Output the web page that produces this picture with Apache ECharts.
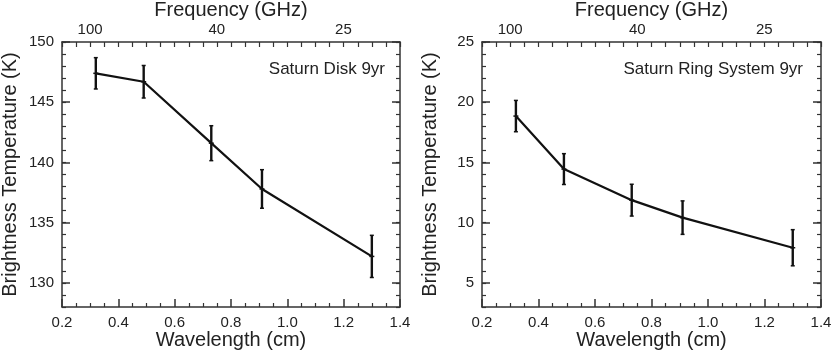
<!DOCTYPE html>
<html>
<head>
<meta charset="utf-8">
<script src="https://cdn.jsdelivr.net/npm/echarts@6/dist/echarts.min.js"></script>
<style>
html, body { margin: 0; padding: 0; background: #fff; }
#chart { width: 831px; height: 352px; }
</style>
</head>
<body>
<div id="chart"></div>
<script>
// WMAP bands W, V, Q, Ka, K (cm)
const wavelength = [0.32, 0.49, 0.73, 0.91, 1.30]
const diskTemp = [147.4, 146.7, 141.6, 137.8, 132.2]
const diskErr = [1.3, 1.35, 1.45, 1.6, 1.75]
const ringTemp = [18.85, 14.45, 11.87, 10.42, 7.92]
const ringErr = [1.3, 1.28, 1.32, 1.39, 1.5]
const freqTicks = [100, 40, 25] // GHz, top axis
const diskYTicks = [130, 135, 140, 145, 150]
const ringYTicks = [5, 10, 15, 20, 25]

const C = 29.9792458 // cm GHz
const font = '"Liberation Sans", Arial, Helvetica, sans-serif'
const ink = '#222'
const frame = { lineStyle: { color: '#333', width: 1.5 } }

const panels = [
    { left: 62, width: 338, ymin: 128, ymax: 150, yTicks: diskYTicks, temp: diskTemp, err: diskErr, label: 'Saturn Disk 9yr', labelX: 385 },
    { left: 482, width: 339, ymin: 3, ymax: 25, yTicks: ringYTicks, temp: ringTemp, err: ringErr, label: 'Saturn Ring System 9yr', labelX: 803 }
]

const grid = [], xAxis = [], yAxis = [], series = [], graphic = []

panels.forEach((p, i) => {
    grid.push({ left: p.left, top: 42, width: p.width, height: 265, outerBoundsMode: 'none', containLabel: false })
    // bottom wavelength axis
    xAxis.push({
        gridIndex: i, type: 'value', position: 'bottom', min: 0.2, max: 1.4, interval: 0.2,
        axisLine: frame, splitLine: { show: false },
        axisTick: { inside: true, length: 8, lineStyle: { color: '#333', width: 1.5 } },
        minorTick: { show: true, splitNumber: 4, length: 4, lineStyle: { color: '#333', width: 1.2 } },
        axisLabel: { fontSize: 15, color: ink, fontFamily: font, margin: 8, formatter: v => v.toFixed(1) },
        name: 'Wavelength (cm)', nameLocation: 'middle', nameGap: 23, nameMoveOverlap: false,
        nameTextStyle: { fontSize: 20, color: ink, fontFamily: font }
    })
    // top frequency axis
    xAxis.push({
        gridIndex: i, type: 'value', position: 'top', min: 0.2, max: 1.4, interval: 0.05,
        axisLine: frame, splitLine: { show: false },
        axisTick: { inside: true, length: 5, lineStyle: { color: '#333', width: 1.2 } },
        axisLabel: {
            customValues: freqTicks.map(f => C / f),
            fontSize: 15, color: ink, fontFamily: font, margin: 5,
            formatter: v => String(Math.round(C / v))
        },
        name: 'Frequency (GHz)', nameLocation: 'middle', nameGap: 22, nameMoveOverlap: false,
        nameTextStyle: { fontSize: 20, color: ink, fontFamily: font }
    })
    // left: minor ticks + labels
    yAxis.push({
        gridIndex: i, type: 'value', position: 'left', min: p.ymin, max: p.ymax, interval: 1,
        axisLine: frame, splitLine: { show: false },
        axisTick: { inside: true, length: 4, lineStyle: { color: '#333', width: 1.2 } },
        axisLabel: { fontSize: 15, color: ink, fontFamily: font, margin: 8, formatter: v => (v % 5 === 0 ? String(v) : '') },
        name: 'Brightness Temperature (K)', nameLocation: 'middle', nameGap: 42, nameMoveOverlap: false,
        nameTextStyle: { fontSize: 20, color: ink, fontFamily: font }
    })
    // left: major ticks
    yAxis.push({
        gridIndex: i, type: 'value', position: 'left', min: p.ymin, max: p.ymax,
        axisLine: { show: false }, splitLine: { show: false }, axisLabel: { show: false },
        axisTick: { inside: true, length: 8, customValues: p.yTicks, lineStyle: { color: '#333', width: 1.5 } }
    })
    // right border: minor + major ticks
    yAxis.push({
        gridIndex: i, type: 'value', position: 'right', min: p.ymin, max: p.ymax, interval: 1,
        axisLine: frame, splitLine: { show: false }, axisLabel: { show: false },
        axisTick: { inside: true, length: 4, lineStyle: { color: '#333', width: 1.2 } }
    })
    yAxis.push({
        gridIndex: i, type: 'value', position: 'right', min: p.ymin, max: p.ymax,
        axisLine: { show: false }, splitLine: { show: false }, axisLabel: { show: false },
        axisTick: { inside: true, length: 8, customValues: p.yTicks, lineStyle: { color: '#333', width: 1.5 } }
    })

    series.push({
        type: 'line', xAxisIndex: i * 2, yAxisIndex: i * 4,
        data: wavelength.map((w, k) => [w, p.temp[k]]),
        showSymbol: false, symbol: 'none', lineStyle: { color: '#111', width: 2.2 }, z: 3
    })
    series.push({
        type: 'custom', xAxisIndex: i * 2, yAxisIndex: i * 4,
        data: wavelength.map((w, k) => [w, p.temp[k], p.err[k]]),
        renderItem: (params, api) => {
            const x = api.value(0), y = api.value(1), e = api.value(2)
            const hi = api.coord([x, y + e]), lo = api.coord([x, y - e]), c = api.coord([x, y])
            const seg = (x1, y1, x2, y2, w) => ({ type: 'line', shape: { x1, y1, x2, y2 }, style: { stroke: '#111', lineWidth: w } })
            return {
                type: 'group',
                children: [
                    seg(hi[0], hi[1], lo[0], lo[1], 2.4),
                    seg(hi[0] - 2, hi[1], hi[0] + 2, hi[1], 1.5),
                    seg(lo[0] - 2, lo[1], lo[0] + 2, lo[1], 1.5),
                    seg(c[0] - 2.5, c[1], c[0] + 2.5, c[1], 1.5)
                ]
            }
        },
        z: 4
    })

    graphic.push({
        type: 'text', right: 831 - p.labelX, top: 61,
        style: { text: p.label, font: '17px ' + font, fill: ink }
    })
})

const chart = echarts.init(document.getElementById('chart'))
chart.setOption({
    animation: false,
    backgroundColor: '#fff',
    grid, xAxis, yAxis, series, graphic
})
</script>
</body>
</html>
